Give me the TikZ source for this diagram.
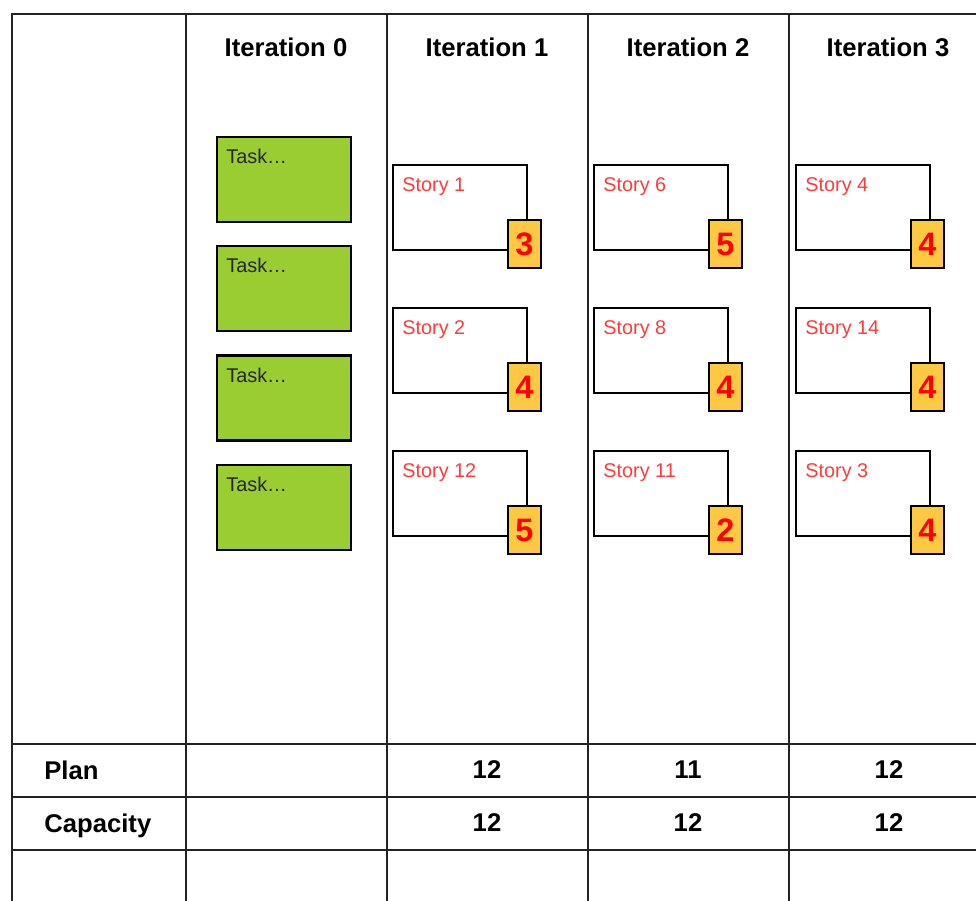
\documentclass[tikz,border=0pt]{standalone}
\usepackage{fontspec}
\setmainfont{Liberation Sans}
\definecolor{taskgreen}{HTML}{9ACD32}
\definecolor{badgeorange}{HTML}{FFC843}
\definecolor{storyred}{HTML}{FF3B3B}
\definecolor{gridgray}{HTML}{222222}
\tikzset{
  gridline/.style={gridgray,line width=1.15pt},
  head/.style={font=\fontsize{14.6}{16}\selectfont\bfseries},
  task/.style={draw,line width=1.3pt,fill=taskgreen,minimum width=2.68cm,minimum height=1.7cm,inner sep=0pt},
  story/.style={draw,line width=1.1pt,fill=white,minimum width=2.68cm,minimum height=1.7cm,inner sep=0pt},
  points/.style={draw,line width=1.2pt,fill=badgeorange,minimum width=0.66cm,minimum height=0.96cm,inner sep=0pt,text=red,font=\fontsize{18.5}{18}\selectfont\bfseries},
  cardtext/.style={anchor=north west,inner sep=0pt,font=\fontsize{11.3}{12}\selectfont},
}
\begin{document}
\begin{tikzpicture}[x=0.02cm,y=-0.02cm]
\useasboundingbox (0,0) rectangle (976,901);
%grid
\draw[gridline] (12,901)--(12,14)--(976,14);
\foreach \gx in {186,387,588,789}
  \draw[gridline] (\gx,14)--(\gx,901);
\foreach \gy in {744,797,850}
  \draw[gridline] (12,\gy)--(976,\gy);
%headers
\foreach \hx [count=\i from 0] in {286,487,688,888}
  \node[head] (head\i) at (\hx,47) {Iteration \i};
%iteration 0
\foreach \ty [count=\i] in {179.5,288.5,398,507.5}{
  \node[task] (task\i) at (284,\ty) {};
  \node[cardtext,text=black!85] (tasklabel\i) at (226,\ty-30.5) {Task…};
}
%stories
\foreach \sx/\sy/\sname/\spts [count=\i] in {
  460/207.5/1/3, 460/350.5/2/4, 460/493.5/12/5,
  661/207.5/6/5, 661/350.5/8/4, 661/493.5/11/2,
  863/207.5/4/4, 863/350.5/14/4, 863/493.5/3/4}{
  \node[story] (story\i) at (\sx,\sy) {};
  \node[cardtext,text=storyred] (storylabel\i) at (\sx-58,\sy-30.5) {Story \sname};
  \node[points] (points\i) at (\sx+64.5,\sy+36.5) {\spts};
}
%plan and capacity
\node[head,anchor=base west,inner sep=0pt] (plan) at (44,779) {Plan};
\node[head,anchor=base west,inner sep=0pt] (capacity) at (44,832) {Capacity};
\foreach \nx/\pv/\cv [count=\i] in {487/12/12,688/11/12,889/12/12}{
  \node[head] (plan\i) at (\nx,770) {\pv};
  \node[head] (cap\i) at (\nx,823) {\cv};
}
\end{tikzpicture}
\end{document}
